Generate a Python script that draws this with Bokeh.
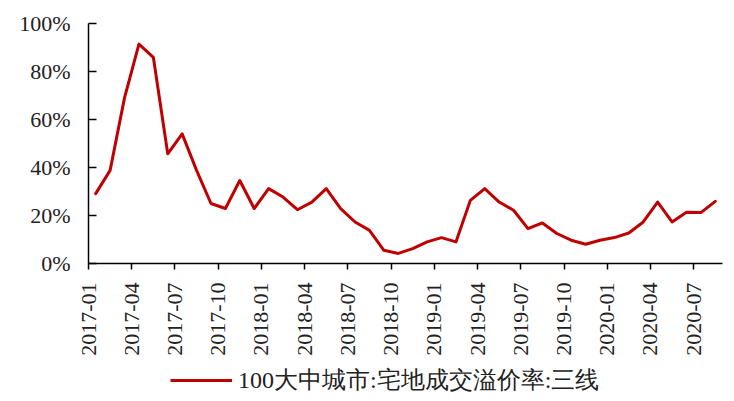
import math
from bokeh.plotting import figure
from bokeh.layouts import column
from bokeh.models import Range1d, FixedTicker, NumeralTickFormatter, Legend, LegendItem, ColumnDataSource
from bokeh.embed import file_html
from bokeh.resources import INLINE

# monthly categories 2017-01 .. 2020-08
months = [f"{y}-{m:02d}" for y in range(2017, 2021) for m in range(1, 13)][:44]

# 100大中城市:宅地成交溢价率:三线 (%)
premium_pct = [29.1, 38.8, 69.0, 91.4, 85.9, 45.7, 54.0, 38.8, 25.0, 22.9,
               34.6, 22.9, 31.2, 27.7, 22.4, 25.6, 31.2, 22.9, 17.3, 13.8,
               5.5, 4.2, 6.2, 9.0, 10.8, 9.0, 26.3, 31.2, 25.6, 22.2,
               14.5, 16.9, 12.5, 9.7, 8.0, 9.7, 10.8, 12.7, 17.3, 25.6,
               17.3, 21.4, 21.2, 25.9]

series_name = "100大中城市:宅地成交溢价率:三线"
y_ticks = [0, 0.2, 0.4, 0.6, 0.8, 1.0]
x_tick_idx = list(range(0, 44, 3))
x_tick_labels = [months[i] for i in x_tick_idx]

xs = [i + 0.5 for i in range(len(premium_pct))]
ys = [v / 100.0 for v in premium_pct]
src = ColumnDataSource(dict(x=xs, y=ys))

LINE_COLOR = "#C00000"
FONT = "Liberation Serif"

p = figure(frame_width=634, frame_height=240, output_backend="svg", toolbar_location=None,
           x_range=Range1d(0, 44), y_range=Range1d(0, 1))
p.min_border_left = 88
p.min_border_right = 4
p.min_border_top = 23
p.min_border_bottom = 100
p.outline_line_color = None
p.grid.visible = False
p.background_fill_color = "white"
p.border_fill_color = "white"

r = p.line("x", "y", source=src, line_color=LINE_COLOR, line_width=3,
           line_join="round", line_cap="round")

xa = p.xaxis[0]
xa.ticker = FixedTicker(ticks=x_tick_idx)
xa.major_label_overrides = {i: lab for i, lab in zip(x_tick_idx, x_tick_labels)}
xa.major_label_orientation = math.pi / 2
xa.major_tick_in = 0
xa.major_tick_out = 6
xa.minor_tick_line_color = None
xa.axis_line_color = "black"
xa.axis_line_width = 1.5
xa.major_tick_line_color = "black"
xa.major_tick_line_width = 1.5
xa.major_label_text_font = FONT
xa.major_label_text_font_size = "22px"
xa.major_label_text_color = "#222222"
xa.major_label_standoff = 13

ya = p.yaxis[0]
ya.ticker = FixedTicker(ticks=y_ticks)
ya.formatter = NumeralTickFormatter(format="0%")
ya.major_tick_in = 8
ya.major_tick_out = 0
ya.minor_tick_line_color = None
ya.axis_line_color = "black"
ya.axis_line_width = 1.5
ya.major_tick_line_color = "black"
ya.major_tick_line_width = 1.5
ya.major_label_text_font = FONT
ya.major_label_text_font_size = "22px"
ya.major_label_text_color = "#222222"
ya.major_label_standoff = 18

# legend strip underneath (same series, kept out of view; only its legend shows)
q = figure(width=726, height=36, output_backend="svg", toolbar_location=None,
           x_range=Range1d(0, 44), y_range=Range1d(10, 11),
           x_axis_location=None, y_axis_location=None)
q.min_border = 0
q.outline_line_color = None
q.grid.visible = False
q.background_fill_color = "white"
q.border_fill_color = "white"
r2 = q.line("x", "y", source=src, line_color=LINE_COLOR, line_width=3)

legend = Legend(items=[LegendItem(label=series_name, renderers=[r2])],
                orientation="horizontal", location=(82, 3))
legend.label_text_font = FONT
legend.label_text_font_size = "24px"
legend.label_text_color = "#222222"
legend.glyph_width = 62
legend.label_standoff = 6
legend.border_line_color = None
legend.background_fill_alpha = 0
legend.padding = 0
legend.margin = 0
q.add_layout(legend)

layout = column(p, q, spacing=0)
open("out.html", "w").write(file_html(layout, INLINE))
